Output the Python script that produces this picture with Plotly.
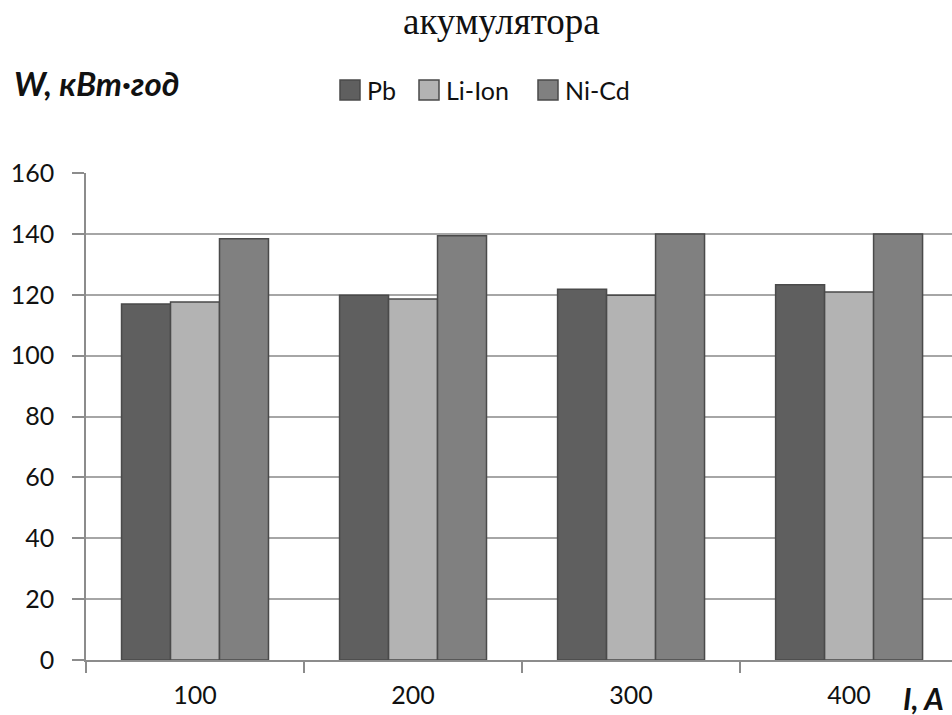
import plotly.graph_objects as go

currents = ["100", "200", "300", "400"]
pb = [117.0, 119.8, 121.8, 123.3]
li_ion = [117.6, 118.6, 119.8, 120.9]
ni_cd = [138.4, 139.4, 140.0, 140.0]

series = [
    ("Pb", pb, "#5f5f5f"),
    ("Li-Ion", li_ion, "#b3b3b3"),
    ("Ni-Cd", ni_cd, "#808080"),
]

W, H = 952, 715
M_L, M_R, M_T, M_B = 86, 0, 173, 55
PLOT_W = W - M_L - M_R
PLOT_H = H - M_T - M_B


def px_x(px):
    """Pixel column -> paper x (relative to the plot area)."""
    return (px - M_L) / PLOT_W


def px_y(py):
    """Pixel row -> paper y (relative to the plot area)."""
    return (H - M_B - py) / PLOT_H


fig = go.Figure()
for name, vals, color in series:
    fig.add_trace(go.Bar(
        x=currents, y=vals, name=name, showlegend=False,
        marker=dict(color=color, line=dict(color="#4a4a4a", width=1.5)),
    ))

text_color = "#111111"
sans = "Lato, 'Open Sans', sans-serif"
label_font = dict(family=sans, size=25, color=text_color)

# legend row drawn as swatches + labels across the top
shapes = []
annotations = []
legend_x = [340, 419, 538]
for (name, _, color), sx in zip(series, legend_x):
    shapes.append(dict(
        type="rect", xref="paper", yref="paper",
        x0=px_x(sx), x1=px_x(sx + 20), y0=px_y(100), y1=px_y(80),
        fillcolor=color, line=dict(color="#4a4a4a", width=1.5),
    ))
    annotations.append(dict(
        text=name, xref="paper", yref="paper",
        x=px_x(sx + 25), y=px_y(90), xanchor="left", yanchor="middle",
        showarrow=False, font=dict(family=sans, size=25, color=text_color),
    ))

annotations += [
    dict(text="акумулятора", xref="paper", yref="paper",
         x=px_x(501), y=px_y(21), xanchor="center", yanchor="middle", showarrow=False,
         font=dict(family="'Liberation Serif', 'Times New Roman', serif", size=37, color=text_color)),
    dict(text="<b><i>W, кВт·год</i></b>", xref="paper", yref="paper",
         x=px_x(12), y=px_y(83), xanchor="left", yanchor="middle", showarrow=False,
         font=dict(family=sans, size=33, color=text_color)),
    dict(text="<b><i>I, A</i></b>", xref="paper", yref="paper",
         x=px_x(946), y=px_y(698), xanchor="right", yanchor="middle", showarrow=False,
         font=dict(family=sans, size=30, color=text_color)),
]

fig.update_layout(
    width=W, height=H,
    margin=dict(l=M_L, r=M_R, t=M_T, b=M_B),
    paper_bgcolor="white", plot_bgcolor="white",
    barmode="group", bargap=0.326, bargroupgap=0,
    showlegend=False,
    shapes=shapes,
    annotations=annotations,
    xaxis=dict(
        type="category", range=[-0.5, 3.472],
        showline=True, linecolor="#8c8c8c", linewidth=1.5,
        ticks="outside", tickson="boundaries", ticklen=11, tickcolor="#8c8c8c", tickwidth=1.5,
        tickfont=label_font, ticklabelstandoff=12,
        showgrid=False,
    ),
    yaxis=dict(
        range=[0, 160], dtick=20,
        showline=True, linecolor="#8c8c8c", linewidth=1.5,
        ticks="outside", ticklen=12, tickcolor="#8c8c8c", tickwidth=1.5,
        tickfont=label_font, ticklabelstandoff=13,
        showgrid=True, gridcolor="#a6a6a6", gridwidth=1.5,
        zeroline=False,
    ),
)

fig.write_html("out.html")
